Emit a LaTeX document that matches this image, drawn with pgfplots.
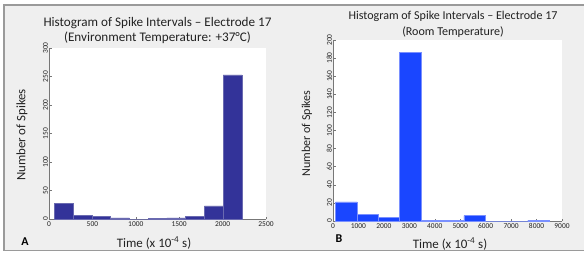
\documentclass[border=0pt]{standalone}
\usepackage{pgfplots}
\pgfplotsset{compat=1.18}
\usepackage{fontspec}
\setmainfont{Carlito}
\definecolor{figbg}{HTML}{EFEFEF}
\definecolor{frame}{HTML}{9A9A9A}
\definecolor{barA}{HTML}{333399}
\definecolor{edgeA}{HTML}{6A6AB0}
\definecolor{barB}{HTML}{1A46FF}
\definecolor{edgeB}{HTML}{7A90FF}
\definecolor{axgray}{HTML}{777777}
\definecolor{txt}{HTML}{222222}
\pgfplotsset{
  panel/.style={
    scale only axis,
    anchor=south west,
    axis background/.style={fill=white},
    axis x line=bottom, axis y line=left,
    axis line style={axgray, line width=0.6bp, -},
    tick style={axgray, line width=0.5bp},
    major tick length=2.5bp,
    tick align=inside,
    ymin=0,
    ticklabel style={font=\fontsize{7.5}{8}\selectfont, text=txt},
    yticklabel style={rotate=90, anchor=south, inner sep=1bp},
    xticklabel style={inner sep=1bp, yshift=-1bp},
    /pgf/number format/assume math mode=true,
    /pgf/number format/1000 sep={},
    clip=false,
  }
}
\begin{document}
\begin{tikzpicture}[x=1bp,y=1bp]
\useasboundingbox (0,0) rectangle (584,255);
\fill[white] (0,0) rectangle (584,255);
\draw[frame, fill=figbg, line width=1.2bp] (4,4.5) rectangle (600,250);
% Panel A
\begin{axis}[panel,
  at={(49bp,36bp)}, width=217bp, height=171bp,
  xmin=0, xmax=2500, ymax=300,
  xtick={0,500,...,2500}, ytick={0,50,...,300}]
\addplot[ybar interval, fill=barA, draw=edgeA, line width=0.5bp] coordinates {
(62,27) (278,7) (494,4) (710,2) (926,0) (1142,1) (1358,2) (1574,4) (1790,23) (2006,253) (2222,0)};
\end{axis}
% Panel B
\begin{axis}[panel,
  at={(333bp,34bp)}, width=229bp, height=181bp,
  xmin=0, xmax=9000, ymax=200,
  xtick={0,1000,...,9000}, ytick={0,20,...,200}]
\addplot[ybar interval, fill=barB, draw=edgeB, line width=0.5bp] coordinates {
(105,21) (944,7) (1783,4) (2622,186) (3461,1) (4300,1) (5139,6) (5978,0) (6817,0) (7656,1) (8495,0)};
\end{axis}
% Titles
\node[font=\fontsize{13.2}{14}\selectfont, text=txt] at (157.5,232.3) {Histogram of Spike Intervals -- Electrode 17};
\node[font=\fontsize{13.2}{14}\selectfont, text=txt] at (157.5,217.7) {(Environment Temperature: +37\textdegree C)};
\node[font=\fontsize{12.1}{13}\selectfont, text=txt] at (453,239) {Histogram of Spike Intervals -- Electrode 17};
\node[font=\fontsize{12.1}{13}\selectfont, text=txt] at (453,222.7) {(Room Temperature)};
% Axis labels
\node[font=\fontsize{12.9}{14}\selectfont, text=txt, rotate=90] at (22,120) {Number of Spikes};
\node[font=\fontsize{12.1}{13}\selectfont, text=txt, rotate=90] at (307,121.5) {Number of Spikes};
\node[font=\fontsize{13}{14}\selectfont, text=txt] at (154,12) {Time (x 10\textsuperscript{-4} s)};
\node[font=\fontsize{13}{14}\selectfont, text=txt] at (450,11) {Time (x 10\textsuperscript{-4} s)};
% Panel letters
\node[font=\fontsize{12}{13}\selectfont\bfseries] at (25,13) {A};
\node[font=\fontsize{12}{13}\selectfont\bfseries] at (339,16) {B};
\end{tikzpicture}
\end{document}
